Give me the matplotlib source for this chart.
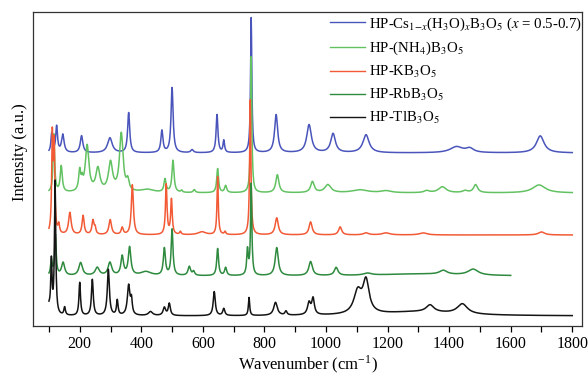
import numpy as np
import matplotlib
matplotlib.use("Agg")
import matplotlib.pyplot as plt
from matplotlib.ticker import MultipleLocator

# Raman bands: position (cm-1), height above the trace
# baseline and half width. Heights are in frame units (0 = bottom, 314 = top).
tl_base = 10
tl_pos = [100, 108, 120, 151, 200, 241, 293, 322, 359, 368, 430, 475, 491, 637, 668,
          750, 836, 870, 945, 958, 1103, 1130, 1300, 1338, 1443]
tl_amp = [8, 52, 133, 8, 33, 36, 46, 15, 30, 14, 4, 8, 12, 24, 7,
          18, 13, 4, 12, 16, 22, 32, 4, 7, 10]
tl_hw = [5, 2.5, 2.5, 3, 3, 3.5, 4, 3, 5, 3, 8, 5, 4, 4, 4,
         2.5, 7, 4, 6, 5, 15, 12, 150, 15, 20]

rb_base = 50
rb_pos = [108, 121, 146, 203, 257, 298, 338, 362, 415, 475, 500, 556, 570, 648, 674,
          745, 757, 840, 950, 1033, 1135, 1300, 1381, 1478]
rb_amp = [15, 40, 13, 13, 8, 13, 19, 28, 4, 27, 46, 9, 4, 27, 8,
          25, 91, 28, 14, 8, 2, 2, 4, 6]
rb_hw = [3, 3, 6, 7, 8, 7, 5, 5, 20, 4, 3.5, 5, 4, 3.5, 4,
         3, 2.5, 6, 7, 7, 15, 150, 15, 20]

k_base = 91
k_pos = [111, 117, 132, 168, 211, 243, 250, 299, 338, 371, 481, 498, 527, 597, 648,
         672, 754, 840, 950, 1046, 1130, 1195, 1316, 1700]
k_amp = [95, 85, 9, 22, 19, 14, 6, 15, 7, 50, 50, 35, 3, 3, 58,
         3, 135, 17, 13, 8, 2, 2, 2, 3]
k_hw = [2.5, 2.5, 3, 5, 4, 4, 3, 5, 4, 4, 3, 3, 3, 15, 2.5,
        3, 2.5, 6, 6, 6, 10, 15, 15, 12]

nh4_base = 133
nh4_pos = [116, 140, 200, 208, 224, 259, 300, 335, 356, 420, 477, 503, 531, 572, 648,
           674, 757, 842, 956, 1006, 1110, 1195, 1327, 1378, 1452, 1486, 1692]
nh4_amp = [58, 26, 20, 8, 46, 23, 29, 58, 10, 3, 13, 32, 2, 3, 24,
           7, 136, 18, 11, 8, 3, 2, 2, 6, 2, 8, 8]
nh4_hw = [3, 4, 4, 3, 7, 8, 8, 7, 5, 25, 4, 4, 3, 4, 3.5,
          4, 2.5, 6, 7, 12, 30, 20, 10, 15, 10, 8, 25]

cs_base = 173
cs_pos = [109, 125, 145, 206, 298, 359, 467, 500, 565, 646, 668, 757, 838, 945, 1023,
          1130, 1424, 1467, 1696]
cs_amp = [19, 26, 18, 17, 15, 40, 22, 65, 3, 38, 12, 135, 38, 28, 19,
          18, 6, 4, 17]
cs_hw = [3, 3.5, 5, 5, 9, 4, 4, 4, 5, 3.5, 3, 2.5, 6, 9, 9,
         12, 25, 15, 15]

labels = [r"HP-Cs$_{1\mathrm{-}x}$(H$_3$O)$_x$B$_3$O$_5$ ($x$ = 0.5-0.7)",
          r"HP-(NH$_4$)B$_3$O$_5$",
          r"HP-KB$_3$O$_5$",
          r"HP-RbB$_3$O$_5$",
          r"HP-TlB$_3$O$_5$"]
colors = ["#4a55bb", "#62c262", "#f25a36", "#2e8a3e", "#141414"]
x_end = [1800, 1800, 1800, 1600, 1800]


def spectrum(x, base, pos, amp, hw):
    # sum of lorentzian bands on a flat baseline
    y = np.full_like(x, float(base))
    for p, a, w in zip(pos, amp, hw):
        y += a * w ** 2 / ((x - p) ** 2 + w ** 2)
    return y


plt.rcParams['font.family'] = ['Liberation Serif', 'DejaVu Serif']
plt.rcParams['mathtext.fontset'] = 'stix'

fig = plt.figure(figsize=(5.88, 3.76), dpi=100)
ax = fig.add_axes([0.056, 0.133, 0.934, 0.836])

series = [(cs_base, cs_pos, cs_amp, cs_hw),
          (nh4_base, nh4_pos, nh4_amp, nh4_hw),
          (k_base, k_pos, k_amp, k_hw),
          (rb_base, rb_pos, rb_amp, rb_hw),
          (tl_base, tl_pos, tl_amp, tl_hw)]

for i, s in enumerate(series):
    x = np.arange(100, x_end[i] + 1, 1.0)
    ax.plot(x, spectrum(x, *s), color=colors[i], lw=1.1, label=labels[i])

ax.set_xlim(48, 1832)
ax.set_ylim(0, 314.3)
ax.set_yticks([])
ax.xaxis.set_major_locator(MultipleLocator(200))
ax.xaxis.set_minor_locator(MultipleLocator(100))
ax.tick_params(axis='x', which='both', direction='out', length=4, width=0.9, labelsize=11.5, pad=3)
for side in ["top", "right", "bottom", "left"]:
    ax.spines[side].set_color('#333333')
    ax.spines[side].set_linewidth(0.9)

ax.set_xlabel(r"Wavenumber (cm$^{\mathregular{-1}}$)", fontsize=12, labelpad=1)
ax.set_ylabel("Intensity (a.u.)", fontsize=12)
ax.yaxis.set_label_coords(-0.009, 0.554)

leg = ax.legend(loc='upper left', bbox_to_anchor=(0.535, 1.0), frameon=False, fontsize=10.7,
                handlelength=2.3, handletextpad=0.3, labelspacing=0.47, borderpad=0.25,
                borderaxespad=0)
for line in leg.get_lines():
    line.set_linewidth(1.0)

fig.savefig("out.png", dpi=100)
